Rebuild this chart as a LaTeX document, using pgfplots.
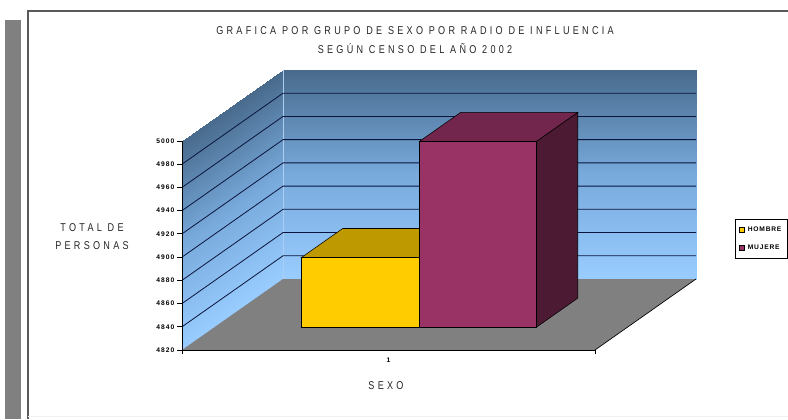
\documentclass[border=0pt]{standalone}
\usepackage{pgfplots}
\usepackage{fontspec}
\pgfplotsset{compat=1.18}
\setmainfont{Liberation Sans}
\newfontfamily\lblfont[LetterSpace=29,FakeStretch=0.8]{Liberation Sans}
\newfontfamily\tickfont[LetterSpace=16]{Liberation Sans Bold}
\newfontfamily\legfont[LetterSpace=12]{Liberation Sans Bold}
\definecolor{hombre}{RGB}{255,204,0}
\definecolor{hombretop}{RGB}{191,153,0}
\definecolor{mujer}{RGB}{153,51,102}
\definecolor{mujertop}{RGB}{115,38,77}
\definecolor{mujerside}{RGB}{77,26,51}
\definecolor{floorgray}{RGB}{128,128,128}
\definecolor{gridnavy}{RGB}{10,20,60}
\begin{document}
\begin{tikzpicture}[x=0.75pt,y=-0.75pt]
\path[use as bounding box] (0,0) rectangle (788,419);
\fill[white] (0,0) rectangle (788,419);
\fill[floorgray] (5,20) rectangle (21,419);
\draw[black!65,line width=1.1pt] (788,11) -- (28,11) -- (28,419);
\draw[black!6,line width=0.6pt] (28,416) -- (788,416);
\begin{axis}[
    at={(136.5pt,-262.5pt)},anchor=south west,
    x={(0.75pt,0pt)},y={(75.75pt,53.25pt)},z={(0pt,0.871pt)},
    xmin=0,xmax=413,ymin=0,ymax=1,zmin=4820,zmax=5000,
    axis lines=left,separate axis lines,
    axis line style={-,black,line width=0.7pt},
    y axis line style={draw=none},
    axis on top,
    ytick=\empty,
    xtick={206.5},xticklabels={1},
    ztick={4820,4840,...,5000},
    major tick length=0pt,
    z tick label style={font=\tickfont\fontsize{5}{5}\selectfont,anchor=east,inner sep=0pt,xshift=-5.5pt},
    x tick label style={font=\tickfont\fontsize{5}{5}\selectfont,anchor=north,inner sep=0pt,yshift=-6pt},
    /pgf/number format/assume math mode=true,
    /pgf/number format/set thousands separator={},
    colormap={wall}{rgb255=(153,204,255) rgb255=(120,170,220) rgb255=(72,106,140)},
    point meta min=4820,point meta max=5000,
    clip=false,
    legend style={at={(axis cs:553,0,4933)},anchor=north west,draw=black,
      line width=0.6pt,font=\legfont\fontsize{5}{5}\selectfont,
      inner xsep=2.5pt,inner ysep=3.5pt,/tikz/row sep=4.5pt,
      cells={anchor=west}},
    legend cell align=left,
    legend image code/.code={\draw[#1] (0pt,-2pt) rectangle (4.2pt,2pt);},
  ]
  % walls
  \addplot3[forget plot,surf,shader=interp,mesh/rows=2,point meta=z] coordinates
    {(0,1,4820) (413,1,4820) (0,1,5000) (413,1,5000)};
  \addplot3[forget plot,surf,shader=interp,mesh/rows=2,point meta=z] coordinates
    {(0,0,4820) (0,1,4820) (0,0,5000) (0,1,5000)};
  % floor
  \addplot3[forget plot,fill=floorgray,draw=none] coordinates
    {(0,0,4820) (413,0,4820) (413,1,4820) (0,1,4820)} -- cycle;
  \addplot3[forget plot,black,line width=0.5pt] coordinates {(413,0,4820) (413,1,4820)};
  \addplot3[forget plot,draw={rgb,255:red,170;green,205;blue,240},line width=0.5pt] coordinates
    {(0,1,4820) (0,1,5000)};
  % grid lines
  \pgfplotsinvokeforeach{4840,4860,4880,4900,4920,4940,4960,4980}{
    \addplot3[forget plot,gridnavy,line width=0.6pt] coordinates {(0,0,#1) (0,1,#1) (413,1,#1)};
  }
  % HOMBRES
  \addplot3[forget plot,fill=hombretop,draw=black,line width=0.4pt] coordinates
    {(87,0.32,4880) (205,0.32,4880) (205,0.73,4880) (87,0.73,4880)} -- cycle;
  \addplot3[forget plot,fill=hombre,draw=black,line width=0.4pt] coordinates
    {(87,0.32,4820) (205,0.32,4820) (205,0.32,4880) (87,0.32,4880)} -- cycle;
  % MUJERES
  \addplot3[forget plot,fill=mujerside,draw=black,line width=0.4pt] coordinates
    {(322,0.32,4820) (322,0.73,4820) (322,0.73,4980) (322,0.32,4980)} -- cycle;
  \addplot3[forget plot,fill=mujertop,draw=black,line width=0.4pt] coordinates
    {(205,0.32,4980) (322,0.32,4980) (322,0.73,4980) (205,0.73,4980)} -- cycle;
  \addplot3[forget plot,fill=mujer,draw=black,line width=0.4pt] coordinates
    {(205,0.32,4820) (322,0.32,4820) (322,0.32,4980) (205,0.32,4980)} -- cycle;
  % ticks: horizontal on the value axis, vertical on the category axis
  \pgfplotsinvokeforeach{4820,4840,4860,4880,4900,4920,4940,4960,4980,5000}{
    \draw[black,line width=0.7pt] (axis cs:0,0,#1) -- ++(-3.75pt,0pt);
  }
  \draw[black,line width=0.7pt] (axis cs:0,0,4820) -- ++(0pt,-3pt);
  \draw[black,line width=0.7pt] (axis cs:413,0,4820) -- ++(0pt,-3pt);
  \addlegendimage{fill=hombre,draw=black}
  \addlegendentry{HOMBRE}
  \addlegendimage{fill=mujer,draw=black}
  \addlegendentry{MUJERE}
\end{axis}
\node[font=\lblfont\fontsize{8.5}{8.5}\selectfont,text=black!85] at (415,31) {GRAFICA POR GRUPO DE SEXO POR RADIO DE INFLUENCIA};
\node[font=\lblfont\fontsize{8.5}{8.5}\selectfont,text=black!85] at (415,49) {SEGÚN CENSO DEL AÑO 2002};
\node[font=\lblfont\fontsize{8.5}{8.5}\selectfont,text=black!85] at (92,228) {TOTAL DE};
\node[font=\lblfont\fontsize{8.5}{8.5}\selectfont,text=black!85] at (92,246) {PERSONAS};
\node[font=\lblfont\fontsize{8.5}{8.5}\selectfont,text=black!85] at (386,386) {SEXO};
\end{tikzpicture}
\end{document}
